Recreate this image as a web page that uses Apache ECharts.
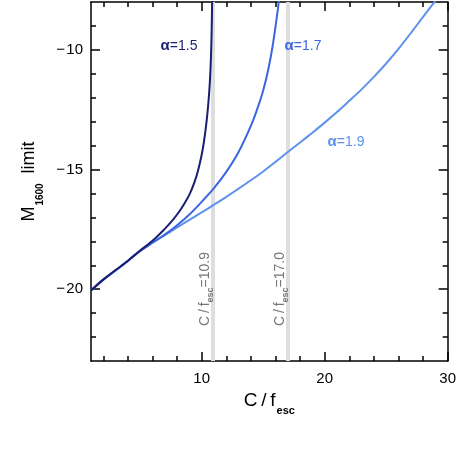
<!DOCTYPE html>
<html>
<head>
<meta charset="utf-8">
<script src="https://cdn.jsdelivr.net/npm/echarts@6/dist/echarts.min.js"></script>
<style>
  html, body { margin: 0; padding: 0; background: #fff; }
  #main { width: 459px; height: 453px; }
</style>
</head>
<body>
<div id="main"></div>
<script>
// C/f_esc values and M1600 limit for each alpha
const alpha15X = [1, 2, 3, 4, 5, 6, 7, 7.5, 8, 8.5, 9, 9.4, 9.7, 10.0, 10.2, 10.4, 10.55, 10.66, 10.75, 10.81, 10.85]
const alpha15Y = [-20.05, -19.6, -19.2, -18.81, -18.38, -17.98, -17.48, -17.2, -16.88, -16.5, -16.05, -15.55, -15.05, -14.38, -13.78, -12.98, -12.18, -11.38, -10.38, -9.22, -7.95]

const alpha17X = [1, 2, 3, 4, 5, 6, 7, 8, 9, 10, 11, 12, 13, 14, 14.5, 15, 15.4, 15.75, 16.05, 16.28]
const alpha17Y = [-20.05, -19.6, -19.22, -18.82, -18.4, -18.06, -17.72, -17.33, -16.88, -16.35, -15.78, -15.1, -14.27, -13.18, -12.5, -11.7, -10.85, -9.9, -8.85, -7.95]

const alpha19X = [1, 2, 3, 4, 5, 6, 7, 8, 9, 10, 11, 12, 13, 14, 15, 16, 17, 18, 19, 20, 21, 22, 23, 24, 25, 26, 27, 28, 29]
const alpha19Y = [-20.05, -19.6, -19.22, -18.82, -18.4, -18.06, -17.74, -17.42, -17.1, -16.79, -16.47, -16.14, -15.8, -15.45, -15.08, -14.68, -14.27, -13.87, -13.46, -13.04, -12.6, -12.13, -11.65, -11.13, -10.57, -9.96, -9.3, -8.62, -7.95]

const alphaNames = ['1.5', '1.7', '1.9']
const bandX = [10.9, 17.0]
const bandNames = ['10.9', '17.0']

const xMajorTicks = [10, 20, 30]
const xMinorTicks = [2, 4, 6, 8, 12, 14, 16, 18, 22, 24, 26, 28]
const yMajorTicks = [-20, -15, -10]
const yMinorTicks = [-22, -21, -19, -18, -17, -16, -14, -13, -12, -11, -9]

const colors = ['#1b1d72', '#3b66e0', '#5e92ee']
const font = 'Liberation Sans, Arial, sans-serif'

const zip = (xs, ys) => xs.map((x, i) => [x, ys[i]])
const minus = (v) => (v < 0 ? '\u2212\u200a' : '') + Math.abs(v)

const chart = echarts.init(document.getElementById('main'))

const frame = { show: true, onZero: false, lineStyle: { color: '#000', width: 1.5 } }
const tickStyle = { color: '#000', width: 1.5 }

const xAxisBase = { type: 'value', min: 1, max: 30, splitLine: { show: false } }
const yAxisBase = { type: 'value', min: -23, max: -8, splitLine: { show: false } }

const xAxes = [
  {
    ...xAxisBase,
    position: 'bottom',
    axisLine: frame,
    axisTick: { inside: true, length: 9, customValues: xMajorTicks, lineStyle: tickStyle },
    axisLabel: { customValues: xMajorTicks, color: '#000', fontSize: 15, fontFamily: font, margin: 10 },
    name: '{m|C\u2009/\u2009f}{s|esc}',
    nameLocation: 'middle',
    nameGap: 27,
    nameTextStyle: {
      rich: {
        m: { fontSize: 19, lineHeight: 20, verticalAlign: 'top', color: '#000', fontFamily: font },
        s: { fontSize: 11, lineHeight: 10, fontWeight: 'bold', padding: [15, 0, 0, 1], verticalAlign: 'top', color: '#000', fontFamily: font },
      },
    },
  },
  { ...xAxisBase, position: 'bottom', axisLine: { show: false }, axisLabel: { show: false },
    axisTick: { inside: true, length: 5, customValues: xMinorTicks, lineStyle: tickStyle } },
  { ...xAxisBase, position: 'top', axisLine: frame, axisLabel: { show: false },
    axisTick: { inside: true, length: 9, customValues: xMajorTicks, lineStyle: tickStyle } },
  { ...xAxisBase, position: 'top', axisLine: { show: false }, axisLabel: { show: false },
    axisTick: { inside: true, length: 5, customValues: xMinorTicks, lineStyle: tickStyle } },
]

const yAxes = [
  {
    ...yAxisBase,
    position: 'left',
    axisLine: frame,
    axisTick: { inside: true, length: 9, customValues: yMajorTicks, lineStyle: tickStyle },
    axisLabel: { customValues: yMajorTicks, color: '#000', fontSize: 15, fontFamily: font, margin: 8, formatter: minus },
    name: '{m|M}{s|1600}{m|  limit}',
    nameLocation: 'middle',
    nameRotate: 90,
    nameGap: 45,
    nameTextStyle: {
      rich: {
        m: { fontSize: 18, lineHeight: 20, verticalAlign: 'top', color: '#000', fontFamily: font },
        s: { fontSize: 10, lineHeight: 10, fontWeight: 'bold', padding: [15, 0, 0, 1], verticalAlign: 'top', color: '#000', fontFamily: font },
      },
    },
  },
  { ...yAxisBase, position: 'left', axisLine: { show: false }, axisLabel: { show: false },
    axisTick: { inside: true, length: 5, customValues: yMinorTicks, lineStyle: tickStyle } },
  { ...yAxisBase, position: 'right', axisLine: frame, axisLabel: { show: false },
    axisTick: { inside: true, length: 9, customValues: yMajorTicks, lineStyle: tickStyle } },
  { ...yAxisBase, position: 'right', axisLine: { show: false }, axisLabel: { show: false },
    axisTick: { inside: true, length: 5, customValues: yMinorTicks, lineStyle: tickStyle } },
]

const curves = [zip(alpha15X, alpha15Y), zip(alpha17X, alpha17Y), zip(alpha19X, alpha19Y)]

const lineSeries = curves.map((data, i) => ({
  type: 'line',
  name: 'α=' + alphaNames[i],
  data: data,
  showSymbol: false,
  smooth: 0.3,
  z: 5 - i,
  lineStyle: { color: colors[i], width: 2 },
}))

const bandSeries = {
  type: 'line',
  data: [],
  z: 1,
  markLine: {
    silent: true,
    z: 1,
    symbol: ['none', 'none'],
    label: { show: false },
    lineStyle: { color: '#dedede', width: 4, type: 'solid' },
    data: bandX.map((x) => ({ xAxis: x })),
  },
}

// α labels and band labels
const alphaLabelPos = [[179, 46], [303, 46], [346, 142]]
const bandLabelPos = [[205, 289], [280, 289]]

const graphics = alphaNames.map((a, i) => ({
  type: 'text',
  z: 20,
  x: alphaLabelPos[i][0],
  y: alphaLabelPos[i][1],
  style: {
    text: '{g|α}{n|=' + a + '}',
    align: 'center',
    verticalAlign: 'middle',
    rich: {
      g: { fontSize: 15, fontWeight: 'bold', fill: colors[i], fontFamily: font },
      n: { fontSize: 14, fill: colors[i], fontFamily: font },
    },
  },
})).concat(bandNames.map((b, i) => ({
  type: 'text',
  z: 20,
  x: bandLabelPos[i][0],
  y: bandLabelPos[i][1],
  rotation: Math.PI / 2,
  style: {
    text: '{m|C\u2009/\u2009f}{s|esc}{m|=' + b + '}',
    align: 'center',
    verticalAlign: 'middle',
    rich: {
      m: { fontSize: 14, lineHeight: 14, verticalAlign: 'top', fill: '#777', fontFamily: font },
      s: { fontSize: 9, lineHeight: 9, fontWeight: 'bold', padding: [8, 0, 0, 0], verticalAlign: 'top', fill: '#777', fontFamily: font },
    },
  },
})))

chart.setOption({
  animation: false,
  backgroundColor: '#fff',
  grid: { left: 91, right: 8, top: 2, bottom: 92, containLabel: false },
  xAxis: xAxes,
  yAxis: yAxes,
  series: [bandSeries].concat(lineSeries),
  graphic: graphics,
})
</script>
</body>
</html>
